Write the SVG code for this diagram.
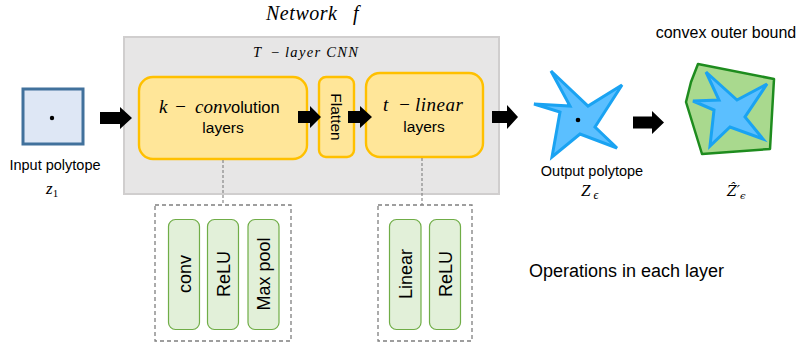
<svg xmlns="http://www.w3.org/2000/svg" width="799" height="343" viewBox="0 0 799 343">
  <style>
    .sans { font-family: "Liberation Sans", Arial, sans-serif; fill: #000; }
    .math { font-family: "Liberation Serif", "DejaVu Serif", serif; font-style: italic; fill: #000; }
    .layer { fill: #ffe699; stroke: #ffc000; stroke-width: 2.4; }
    .op { fill: #e2f0d9; stroke: #70ad47; stroke-width: 1.2; }
    .group-box { fill: none; stroke: #7f7f7f; stroke-width: 1.3; stroke-dasharray: 4 3; }
    .link { fill: none; stroke: #7f7f7f; stroke-width: 1.1; stroke-dasharray: 3 2; }
    .arrow { fill: #000; }
    .star { fill: #5bbfff; stroke: #1aa3f2; stroke-width: 3; stroke-linejoin: miter; }
  </style>

  <!-- title -->
  <text class="math" y="20" font-size="20"><tspan x="266" textLength="71" lengthAdjust="spacing">Network</tspan><tspan x="353">f</tspan></text>

  <!-- CNN container -->
  <g id="cnn">
    <rect x="124" y="37" width="375" height="157" fill="#e7e6e6" stroke="#d0cece" stroke-width="2"/>
    <text class="math" y="57" font-size="14.5"><tspan x="253">T</tspan><tspan x="270">−</tspan><tspan x="285" textLength="73" lengthAdjust="spacing">layer CNN</tspan></text>
  </g>

  <!-- input polytope -->
  <g id="input">
    <rect x="23" y="89" width="60" height="55" fill="#dee7f5" stroke="#41719c" stroke-width="3"/>
    <circle cx="52" cy="118" r="2.2" fill="#000"/>
    <text class="sans" x="55" y="170" font-size="14.5" text-anchor="middle">Input polytope</text>
    <text class="math" x="46" y="194" font-size="17">z<tspan font-size="11" dy="3" font-style="normal">1</tspan></text>
  </g>

  <!-- convolution layers -->
  <g id="conv-layers">
    <rect class="layer" x="139" y="77" width="168" height="82" rx="14"/>
    <text y="113"><tspan class="math" x="159" font-size="19">k</tspan><tspan class="math" x="174" font-size="19">−</tspan><tspan class="math" x="195" font-size="19" textLength="36" lengthAdjust="spacing">conv</tspan><tspan class="sans" font-size="16.5">olution</tspan></text>
    <text class="sans" x="223" y="133" font-size="15.5" text-anchor="middle">layers</text>
  </g>

  <!-- flatten -->
  <g id="flatten">
    <rect class="layer" x="319" y="77" width="35" height="80" rx="7"/>
    <text class="sans" font-size="15.5" text-anchor="middle" transform="translate(336 117) rotate(90)" dy="5.5">Flatten</text>
  </g>

  <!-- linear layers -->
  <g id="linear-layers">
    <rect class="layer" x="366" y="73" width="117" height="84" rx="14"/>
    <text class="math" y="111" font-size="19"><tspan x="383">t</tspan><tspan x="398">−</tspan><tspan x="415" textLength="48" lengthAdjust="spacing">linear</tspan></text>
    <text class="sans" x="424" y="132" font-size="15.5" text-anchor="middle">layers</text>
  </g>

  <!-- output polytope -->
  <g id="output">
    <polygon class="star" points="551,71 588,106 622,85 595,127 617,148 580,134 552,157 560,112 534,104 570,106"/>
    <circle cx="578" cy="120" r="2.3" fill="#000"/>
    <text class="sans" x="592" y="176" font-size="14.5" text-anchor="middle">Output polytope</text>
    <text class="math" x="581" y="196" font-size="17">Z<tspan font-size="12" dx="3" dy="3">ϵ</tspan></text>
  </g>

  <!-- convex outer bound -->
  <g id="outer-bound">
    <text class="sans" x="726" y="38" font-size="16" text-anchor="middle">convex outer bound</text>
    <polygon points="698,64 774,79 770,149 702,154 686,102 691,82" fill="#a9d98e" stroke="#1e8c1e" stroke-width="2.5" stroke-linejoin="round"/>
    <polygon class="star" points="706,72 737,100 767,84 745,117 763,139 730,127 710,146 714,110 693,101 719,100"/>
    <text x="727" y="196" font-family="'DejaVu Serif', serif" font-style="italic" font-size="14">Ẑ′<tspan font-size="10" dy="3">ϵ</tspan></text>
  </g>

  <!-- operations inside the convolution layers -->
  <g id="conv-ops">
    <rect class="group-box" x="155" y="205" width="136" height="136"/>
    <rect class="op" x="168.5" y="219.5" width="31" height="110" rx="7"/>
    <rect class="op" x="207.5" y="219.5" width="31" height="110" rx="7"/>
    <rect class="op" x="248" y="219.5" width="31" height="110" rx="7"/>
    <text class="sans" font-size="18" text-anchor="middle" transform="translate(184 274) rotate(-90)" dy="6.5">conv</text>
    <text class="sans" font-size="18" text-anchor="middle" transform="translate(223 274) rotate(-90)" dy="6.5">ReLU</text>
    <text class="sans" font-size="18" text-anchor="middle" transform="translate(263.5 274) rotate(-90)" dy="6.5">Max pool</text>
  </g>

  <!-- operations inside the linear layers -->
  <g id="linear-ops">
    <rect class="group-box" x="378" y="205" width="94" height="136"/>
    <rect class="op" x="389.5" y="219.5" width="31.5" height="110" rx="7"/>
    <rect class="op" x="429.5" y="219.5" width="31" height="110" rx="7"/>
    <text class="sans" font-size="18" text-anchor="middle" transform="translate(405 274) rotate(-90)" dy="6.5">Linear</text>
    <text class="sans" font-size="18" text-anchor="middle" transform="translate(445 274) rotate(-90)" dy="6.5">ReLU</text>
  </g>

  <text class="sans" x="529" y="277" font-size="18">Operations in each layer</text>

  <!-- connectors -->
  <g id="connectors">
    <path class="arrow" d="M100,112 H120 V107 L132,118 L120,129 V124 H100 Z"/>
    <path class="arrow" d="M298,111 H310 V106 L321,117 L310,128 V123 H298 Z"/>
    <path class="arrow" d="M348,111 H360 V106 L372,117 L360,128 V123 H348 Z"/>
    <path class="arrow" d="M492,111 H507 V105 L518,117 L507,129 V123 H492 Z"/>
    <path class="arrow" d="M633,116.5 H652 V111 L664,122.5 L652,134 V128.5 H633 Z"/>
    <path class="link" d="M223,160 V205"/>
    <path class="link" d="M422,158 V205"/>
  </g>
</svg>
